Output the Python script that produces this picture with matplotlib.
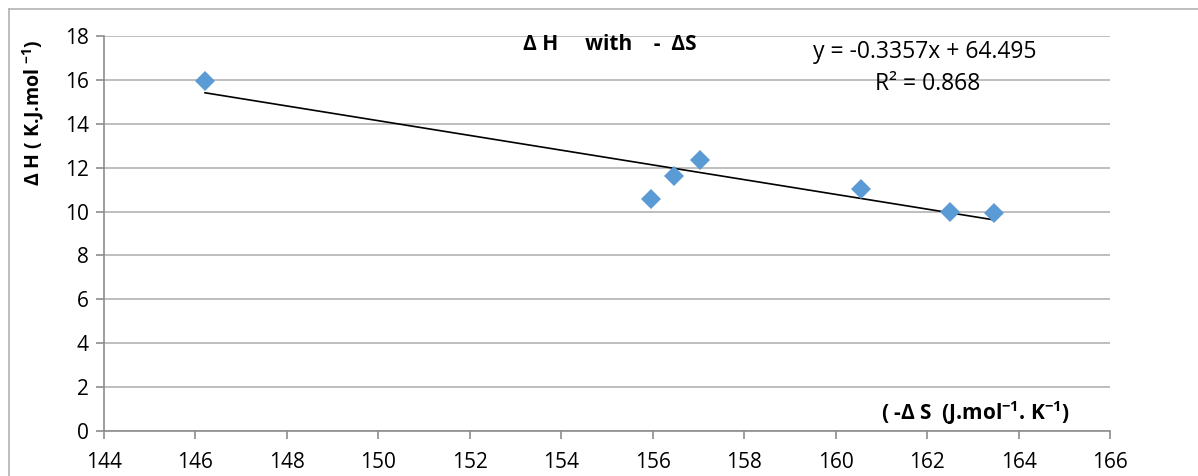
import numpy as np
import matplotlib
matplotlib.use("Agg")
import matplotlib.pyplot as plt
from matplotlib.lines import Line2D

# Data
neg_dS = [146.21, 155.97, 156.47, 157.04, 160.56, 162.51, 163.46]
dH = [15.97, 10.55, 11.64, 12.35, 11.03, 10.00, 9.95]
slope, intercept = -0.3357, 64.495
x_ticks = list(range(144, 167, 2))
y_ticks = list(range(0, 19, 2))
title = "Δ H     with    -  ΔS"
eq_text = "y = -0.3357x + 64.495"
r2_text = "R² = 0.868"
ylabel = "Δ H ( K.J.mol $^{-1}$)"
xlabel = "( -Δ S  (J.mol$^{-1}$. K$^{-1}$)"

plt.rcParams['font.family'] = ['Open Sans', 'DejaVu Sans']
plt.rcParams['mathtext.default'] = 'regular'

W, H = 1198, 476
fig = plt.figure(figsize=(W / 100, H / 100), dpi=100)
ax = fig.add_axes([104 / W, 1 - 431 / H, (1110 - 104) / W, (431 - 36) / H])

ax.set_xlim(144, 166)
ax.set_ylim(0, 18)
ax.set_xticks(x_ticks)
ax.set_yticks(y_ticks)
ax.yaxis.grid(True, color='#B3B3B3', linewidth=1.2)
ax.set_axisbelow(True)
for s in ['top', 'right']:
    ax.spines[s].set_visible(False)
for s in ['left', 'bottom']:
    ax.spines[s].set_color('#8C8C8C')
    ax.spines[s].set_linewidth(1.2)
ax.tick_params(axis='both', direction='out', length=6, color='#8C8C8C',
               labelsize=15, labelcolor='black', width=1.2)
ax.tick_params(axis='x', pad=9)
ax.tick_params(axis='y', pad=5)

# trendline
xs = np.array([min(neg_dS), max(neg_dS)])
ax.plot(xs, slope * xs + intercept, color='black', linewidth=1.2, zorder=2)
# points
ax.plot(neg_dS, dH, linestyle='none', marker='D', markersize=10.5,
        color='#5B9BD5', markeredgewidth=0, zorder=3)

fig.text(610 / W, 1 - 45 / H, title, fontsize=15, fontweight='bold',
         ha='center', va='center')
fig.text(925 / W, 1 - 52 / H, eq_text, fontsize=16.5, ha='center', va='center')
fig.text(928 / W, 1 - 84 / H, r2_text, fontsize=16.5, ha='center', va='center')
fig.text(33 / W, 1 - 113 / H, ylabel, fontsize=14, fontweight='bold',
         rotation=90, ha='center', va='center')
fig.text(975 / W, 1 - 413 / H, xlabel, fontsize=15, fontweight='bold',
         ha='center', va='center')

# outer chart border (left and top visible)
fig.add_artist(Line2D([9 / W, 9 / W], [0, 1 - 9 / H], color='#B3B3B3',
                      linewidth=1.2, transform=fig.transFigure))
fig.add_artist(Line2D([9 / W, 1], [1 - 9 / H, 1 - 9 / H], color='#B3B3B3',
                      linewidth=1.2, transform=fig.transFigure))

fig.savefig('out.png', dpi=100, facecolor='white')
